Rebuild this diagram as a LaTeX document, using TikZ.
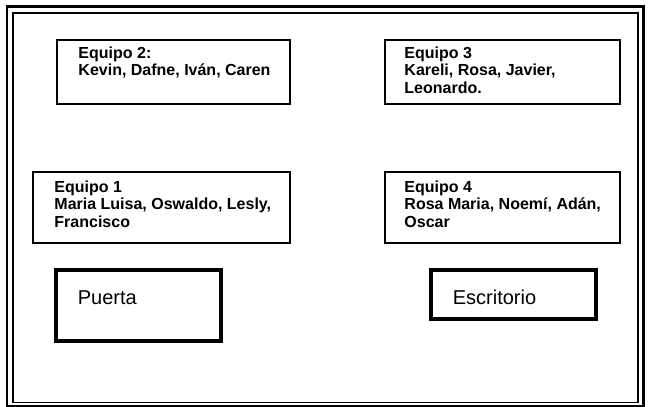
\documentclass[tikz,border=0pt]{standalone}
\usepackage{fontspec}
\setmainfont{Liberation Sans}
\usetikzlibrary{positioning, fit}

\begin{document}
\begin{tikzpicture}[x=0.75pt, y=-0.75pt,
    frameline/.style={draw=black, line width=1.9pt},
    teambox/.style={draw=black, line width=1.2pt, inner sep=0pt},
    roombox/.style={draw=black, line width=3.6pt, inner sep=0pt},
    teamtext/.style={inner sep=0pt, align=left, font=\fontsize{12}{13.2}\selectfont\bfseries},
    roomtext/.style={inner sep=0pt, font=\fontsize{15}{17}\selectfont}]
\useasboundingbox (0,0) rectangle (651,407);
% double frame round the room
\draw[frameline] (7,6.5) rectangle (643.5,406);
\draw[line width=1.3pt] (13,13) rectangle (638,402.5);

% teams
\node[teambox, fit={(57,40) (290,104)}] (eq2) {};
\node[teambox, fit={(385,40) (620,104)}] (eq3) {};
\node[teambox, fit={(33,172) (290,243)}] (eq1) {};
\node[teambox, fit={(385,172) (620,243)}] (eq4) {};
\node[teamtext, anchor=north west] (eq2txt) at ([shift={(22,7)}]eq2.north west) {Equipo 2:\\Kevin, Dafne, Iván, Caren};
\node[teamtext, anchor=north west] (eq3txt) at ([shift={(20,7)}]eq3.north west) {Equipo 3\\Kareli, Rosa, Javier,\\Leonardo.};
\node[teamtext, anchor=north west] (eq1txt) at ([shift={(22,9)}]eq1.north west) {Equipo 1\\Maria Luisa, Oswaldo, Lesly,\\Francisco};
\node[teamtext, anchor=north west] (eq4txt) at ([shift={(20,9)}]eq4.north west) {Equipo 4\\Rosa Maria, Noemí, Adán,\\Oscar};

% door and desk
\node[roombox, fit={(56,270) (221,341)}] (door) {};
\node[roombox, fit={(431,270) (596,319)}] (desk) {};
\node[roomtext, anchor=west] (doortxt) at ([shift={(24,-8)}]door.west) {Puerta};
\node[roomtext, anchor=west] (desktxt) at ([shift={(24,3)}]desk.west) {Escritorio};
\end{tikzpicture}
\end{document}
